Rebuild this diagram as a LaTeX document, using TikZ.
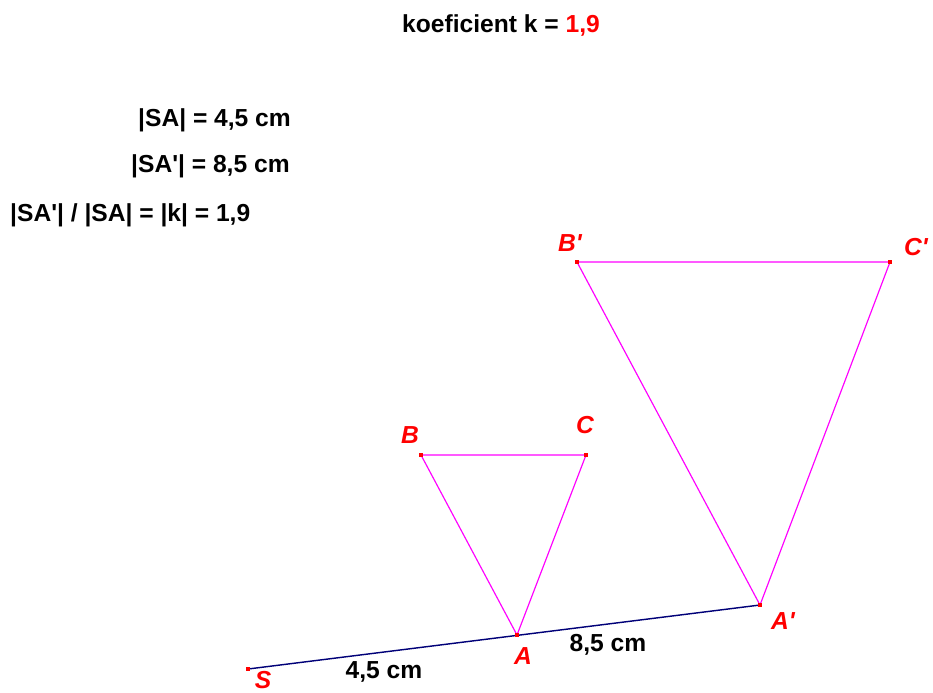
\documentclass[tikz,border=0pt]{standalone}
\usepackage{fontspec}
\setmainfont{Liberation Sans}[Ligatures=TeXOff]
\definecolor{ptred}{RGB}{255,0,0}
\definecolor{trimag}{RGB}{255,0,255}
\definecolor{segnavy}{RGB}{0,0,120}
\tikzset{
  txt/.style={font=\fontsize{21}{25}\selectfont\bfseries, inner sep=0pt},
  lbl/.style={font=\fontsize{21}{25}\selectfont\bfseries\itshape, text=ptred, inner sep=0pt},
  pt/.style={rectangle, fill=ptred, minimum size=4pt, inner sep=0pt},
  tri/.style={trimag, line width=1pt},
  seg/.style={segnavy, line width=1.2pt}
}
\begin{document}
\begin{tikzpicture}[x=0.03cm, y=-0.03cm]
\useasboundingbox (0,0) rectangle (933,692);
% points
\coordinate (S) at (248,669);
\coordinate (A) at (517,635);
\coordinate (A') at (760,605);
\coordinate (B) at (421,455);
\coordinate (C) at (586,455);
\coordinate (B') at (577,262);
\coordinate (C') at (890,262);
% segment and triangles
\draw[seg] (S) -- (A');
\draw[tri] (A) -- (B) -- (C) -- cycle;
\draw[tri] (A') -- (B') -- (C') -- cycle;
\node[pt] (pS) at (S) {};
\node[pt] (pA) at (A) {};
\node[pt] (pA') at (A') {};
\node[pt] (pB) at (B) {};
\node[pt] (pC) at (C) {};
\node[pt] (pB') at (B') {};
\node[pt] (pC') at (C') {};
% labels
\node[lbl] (lS) at (263,680) {S};
\node[lbl] (lA) at (523,656) {A};
\node[lbl] (lA') at (783,621) {A'};
\node[lbl] (lB) at (410,435) {B};
\node[lbl] (lC) at (585,425) {C};
\node[lbl] (lB') at (570,243) {B'};
\node[lbl] (lC') at (916,247) {C'};
\node[txt] (d1) at (384,672) {4,5 cm};
\node[txt] (d2) at (608,645) {8,5 cm};
% texts
\node[txt] (title) at (501,25) {koeficient k = \textcolor{ptred}{1,9}};
\node[txt, anchor=west] (sa) at (138,120) {|SA| = 4,5 cm};
\node[txt, anchor=west] (sa2) at (131,166) {|SA'| = 8,5 cm};
\node[txt, anchor=west] (ratio) at (10,215) {|SA'| / |SA| = |k| = 1,9};
\end{tikzpicture}
\end{document}
